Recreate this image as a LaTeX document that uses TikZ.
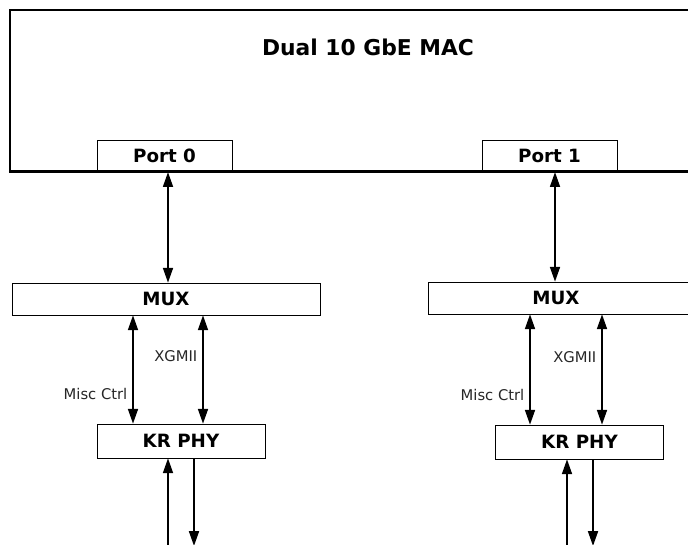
\documentclass[tikz,border=0pt]{standalone}
\usepackage{fontspec}
\setmainfont{DejaVu Sans}
\usetikzlibrary{arrows.meta, positioning}

\begin{document}
\begin{tikzpicture}[x=0.025cm, y=-0.025cm, >={Triangle[length=10.5pt,width=7pt]},
    blk/.style={draw, thin, rectangle, inner sep=0pt, font=\fontsize{13}{15}\selectfont\bfseries},
    bus/.style={<->, line width=1.4pt},
    lane/.style={->, line width=1.4pt},
    sig/.style={anchor=east, inner sep=1pt, font=\fontsize{10.5}{12}\selectfont, text=black!85}]
    \useasboundingbox (0,0) rectangle (688,544);
    \clip (0,0) rectangle (688,544);

    \node[draw, line width=1.5pt, minimum width=17.25cm, minimum height=4.025cm, inner sep=0pt] (mac) at (355,90.5) {};
    \node[font=\fontsize{15.5}{18}\selectfont\bfseries] (title) at (368,47) {Dual 10 GbE MAC};
    \node[blk, minimum width=3.375cm, minimum height=0.775cm] (port0) at (164.5,155.5) {Port 0};
    \node[blk, minimum width=3.375cm, minimum height=0.775cm] (port1) at (549.5,155.5) {Port 1};
    \draw[line width=1.5pt] (mac.south west) -- (mac.south east);

    \node[blk, minimum width=7.7cm, minimum height=0.8cm] (mux0) at (166,299) {MUX};
    \node[blk, minimum width=7.3cm, minimum height=0.8cm] (mux1) at (574,298) {};
    \node[font=\fontsize{13}{15}\selectfont\bfseries] at (556,298) {MUX};
    \node[blk, minimum width=4.2cm, minimum height=0.85cm] (phy0) at (181,441) {KR PHY};
    \node[blk, minimum width=4.2cm, minimum height=0.85cm] (phy1) at (579.5,442) {KR PHY};

    % lane positions
    \coordinate (p0) at (168,0);
    \coordinate (p1) at (555,0);
    \coordinate (c0) at (133,0);
    \coordinate (x0) at (203,0);
    \coordinate (c1) at (530,0);
    \coordinate (x1) at (602,0);
    \coordinate (rx0) at (168,548);
    \coordinate (tx0) at (194,546);
    \coordinate (rx1) at (567,548);
    \coordinate (tx1) at (593,546);

    \draw[bus] (mac.south -| p0) -- (mux0.north -| p0);
    \draw[bus] (mac.south -| p1) -- (mux1.north -| p1);

    \draw[bus] (mux0.south -| c0) -- (phy0.north -| c0);
    \draw[bus] (mux0.south -| x0) -- (phy0.north -| x0);
    \draw[bus] (mux1.south -| c1) -- (phy1.north -| c1);
    \draw[bus] (mux1.south -| x1) -- (phy1.north -| x1);

    \node[sig] (xg0) at (199,356) {XGMII};
    \node[sig] (mc0) at (129,394) {Misc Ctrl};
    \node[sig] (xg1) at (598,357) {XGMII};
    \node[sig] (mc1) at (526,395) {Misc Ctrl};

    \draw[lane] (rx0) -- (phy0.south -| rx0);
    \draw[lane] (phy0.south -| tx0) -- (tx0);
    \draw[lane] (rx1) -- (phy1.south -| rx1);
    \draw[lane] (phy1.south -| tx1) -- (tx1);
\end{tikzpicture}
\end{document}
